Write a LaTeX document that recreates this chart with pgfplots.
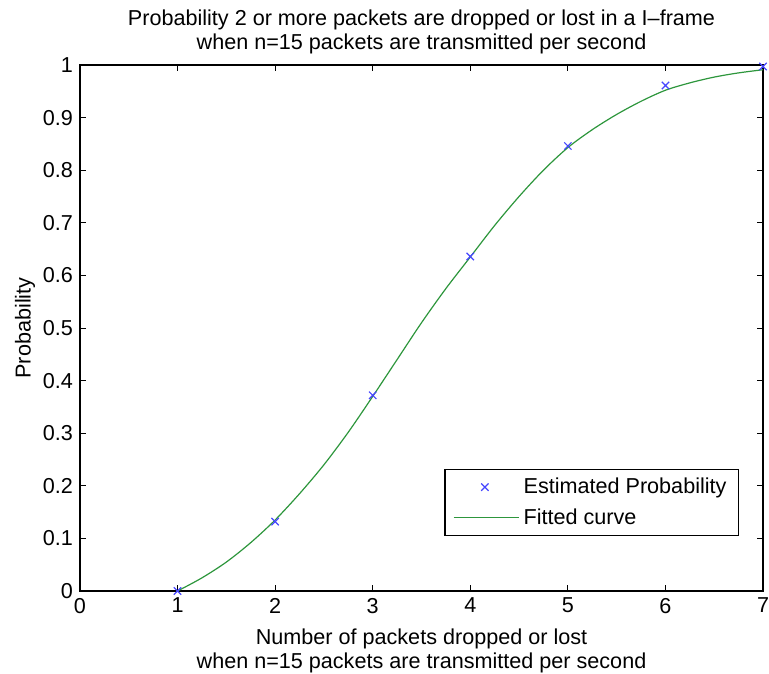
\documentclass[border=0pt]{standalone}
\usepackage{pgfplots}
\pgfplotsset{compat=1.18}
\usepackage{fontspec}
\setmainfont{Liberation Sans}
\definecolor{fitgreen}{RGB}{45,150,60}
\definecolor{estblue}{RGB}{70,70,255}

\pgfplotsset{
  marklegend/.style={legend image code/.code={\draw[##1] plot coordinates {(0.85cm,0cm)};}},
  linelegend/.style={legend image code/.code={\draw[##1] (0.3cm,0cm) -- (1.45cm,0cm);}},
}

\begin{document}
\begin{tikzpicture}
\useasboundingbox (-40pt,-41pt) rectangle (344.5pt,295.5pt);
\begin{axis}[
  at={(0,0)}, anchor=south west,
  scale only axis,
  width=341.5pt, height=263pt,
  xmin=0, xmax=7, ymin=0, ymax=1,
  xtick={0,1,...,7},
  ytick={0,0.1,...,1.0},
  yticklabel style={/pgf/number format/fixed,/pgf/number format/precision=1},
  /pgf/number format/assume math mode=true,
  tick align=inside,
  major tick length=3pt,
  tick style={black, line width=0.4pt},
  axis line style={black, line width=0.6pt},
  font=\fontsize{10.8pt}{12pt}\selectfont,
  title style={align=center, font=\fontsize{10.8pt}{12pt}\selectfont, yshift=-4pt},
  title={Probability 2 or more packets are dropped or lost in a I\textendash frame\\when n=15 packets are transmitted per second},
  xlabel style={align=center, font=\fontsize{10.8pt}{12pt}\selectfont, yshift=-1pt},
  xlabel={Number of packets dropped or lost\\when n=15 packets are transmitted per second},
  ylabel style={font=\fontsize{10.8pt}{12pt}\selectfont, yshift=-3pt},
  ylabel={Probability},
  legend style={at={(0.965,0.105)}, anchor=south east, draw=black,
    line width=0.6pt, font=\fontsize{10.8pt}{12pt}\selectfont,
    inner xsep=4pt, inner ysep=2pt, row sep=2pt},
  legend cell align=left,
]
% estimated probabilities
\addplot[only marks, mark=x, mark size=2.6pt, estblue, line width=0.6pt, marklegend]
  coordinates {
  (1,0.000) (2,0.132) (3,0.372) (4,0.636) (5,0.846) (6,0.961) (7,0.997)
};
\addlegendentry{Estimated Probability}
% fitted curve
\addplot[fitgreen, line width=0.6pt, smooth, linelegend]
  coordinates {
  (1.00,0.000) (1.25,0.025) (1.50,0.055) (1.75,0.092) (2.00,0.135)
  (2.25,0.185) (2.50,0.240) (2.75,0.302) (3.00,0.370) (3.25,0.440)
  (3.50,0.510) (3.75,0.575) (4.00,0.635) (4.25,0.695) (4.50,0.750)
  (4.75,0.800) (5.00,0.843) (5.25,0.877) (5.50,0.906) (5.75,0.931)
  (6.00,0.952) (6.25,0.966) (6.50,0.977) (6.75,0.985) (7.00,0.991)
};
\addlegendentry{Fitted curve}
\end{axis}
\end{tikzpicture}
\end{document}
